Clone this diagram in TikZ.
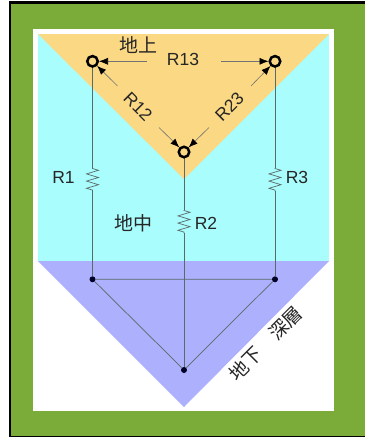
\documentclass[tikz,border=0pt]{standalone}
\usepackage{fontspec}
\setmainfont{Liberation Sans}
\newfontfamily\cjk{Noto Sans CJK JP}
\usetikzlibrary{arrows.meta,decorations.pathmorphing}
\definecolor{grn}{HTML}{7BAC3A}
\definecolor{yel}{HTML}{FBD884}
\definecolor{cyn}{HTML}{A9FDFD}
\definecolor{blu}{HTML}{ACB0FD}
\definecolor{wire}{HTML}{5A6A68}
\tikzset{
  x=1pt,y=-1pt,
  lbl/.style={inner sep=0pt,font=\fontsize{17.5pt}{20pt}\selectfont,text=black!85},
  jlbl/.style={inner sep=0pt,font=\cjk\fontsize{19pt}{21pt}\selectfont,text=black!85},
  term/.style={circle,draw=black,line width=2.5pt,fill=yel,minimum size=10.5pt,inner sep=0pt},
  junc/.style={circle,fill=black!85!blue,minimum size=6pt,inner sep=0pt},
  wirel/.style={draw=wire,line width=0.7pt},
  res/.style={wirel,decorate,decoration={zigzag,segment length=7.2pt,amplitude=6pt,pre length=0.5pt,post length=0.5pt}},
  arr/.style={draw=black!55,line width=0.6pt,-{Latex[length=9pt,width=7pt,black]}}
}
\begin{document}
\begin{tikzpicture}
\useasboundingbox (0,0) rectangle (365,437);
\fill[white] (0,0) rectangle (365,437);
\fill[black] (9,1) rectangle (365,437);
\fill[grn] (11,3.5) rectangle (365,435.8);
\fill[white] (33,29) rectangle (334,411);
\fill[cyn] (38,34) rectangle (329,261);
\fill[yel] (38,34) -- (329,34) -- (184,179) -- cycle;
\fill[blu] (38,261) -- (329,261) -- (184,407) -- cycle;

\coordinate (r1a) at (92.5,168); \coordinate (r1b) at (92.5,191);
\coordinate (r3a) at (275,168); \coordinate (r3b) at (275,191);
\coordinate (r2a) at (184,210); \coordinate (r2b) at (184,233);

\node[junc] (j1) at (92.5,279.3) {};
\node[junc] (j3) at (275,279.3) {};
\node[junc] (j2) at (184,370) {};

\draw[wirel] (92.5,61) -- (r1a) (r1b) -- (j1);
\draw[wirel] (275,61) -- (r3a) (r3b) -- (j3);
\draw[wirel] (184,152) -- (r2a) (r2b) -- (j2);
\draw[res] (r1a) -- (r1b);
\draw[res] (r3a) -- (r3b);
\draw[res] (r2a) -- (r2b);
\draw[wirel] (j1) -- (j3) (j1) -- (j2) (j3) -- (j2);

\node[term] (t1) at (92.5,61.3) {};
\node[term] (t3) at (275,61.3) {};
\node[term] (t2) at (184,152) {};

\coordinate (a1) at (147,61.3); \coordinate (a3) at (221,61.3);
\coordinate (b1) at (117.5,86); \coordinate (b2) at (159,127.5);
\coordinate (c2) at (209,127.5); \coordinate (c3) at (251,86);
\draw[arr] (a1) -- (t1);
\draw[arr] (a3) -- (t3);
\draw[arr] (b1) -- (t1);
\draw[arr] (b2) -- (t2);
\draw[arr] (c2) -- (t2);
\draw[arr] (c3) -- (t3);

\node[lbl] (R13) at (183,59.5) {R13};
\node[lbl,rotate=-45] (R12) at (138,107) {R12};
\node[lbl,rotate=45] (R23) at (229.5,106.5) {R23};
\node[lbl] (R1) at (63.5,177) {R1};
\node[lbl] (R3) at (297,177) {R3};
\node[lbl] (R2) at (206,223.5) {R2};
\node[jlbl] (J1) at (138,45) {地上};
\node[jlbl] (J2) at (133,223.5) {地中};
\node[jlbl,rotate=45] (J4) at (265.5,343.5) {地下　深層};
\end{tikzpicture}
\end{document}
